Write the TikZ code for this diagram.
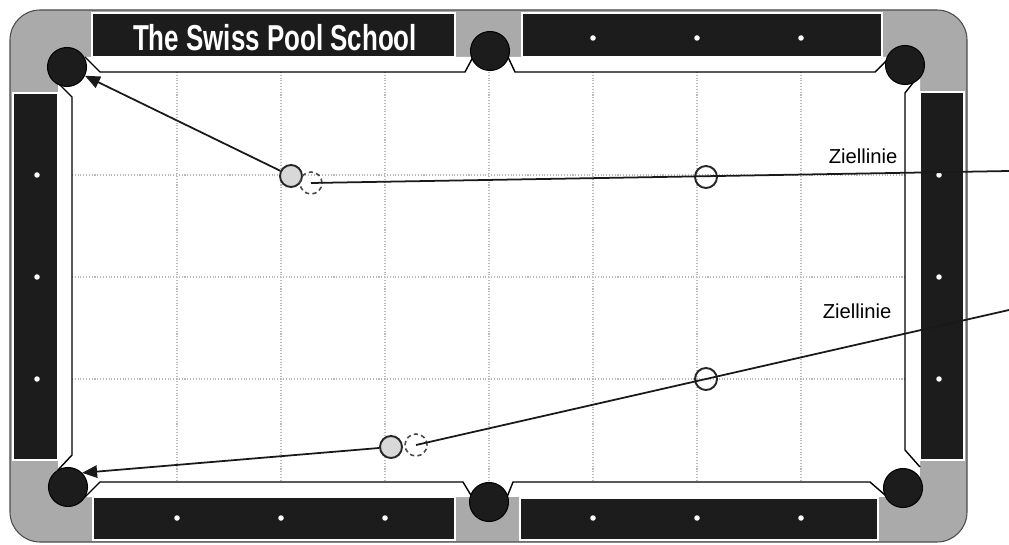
\documentclass[tikz,border=0pt]{standalone}
\usepackage{fontspec}
\setmainfont{Liberation Sans}
\newfontfamily\titlefont[FakeStretch=0.72]{Liberation Sans}
\usepackage{tikz}
\usetikzlibrary{arrows.meta}
\definecolor{railcolor}{RGB}{28,28,28}
\definecolor{cornercolor}{RGB}{170,170,170}
\definecolor{gridcolor}{RGB}{185,185,185}
\definecolor{ballcolor}{RGB}{216,216,216}

\begin{document}
\begin{tikzpicture}[x=2mm,y=2mm,
  pocket/.style={circle,fill=railcolor,draw=black,line width=0.6pt,inner sep=0pt,minimum size=7.8mm},
  ball/.style={circle,draw=black!85,line width=1.1pt,inner sep=0pt,minimum size=4.4mm},
  ghost/.style={ball,draw=black!70,line width=0.9pt,dash pattern=on 2.5pt off 1.8pt},
  rail/.style={fill=railcolor,draw=white,line width=1.4pt},
  cushion/.style={fill=white,draw=black,line width=0.8pt},
  spot/.style={circle,fill=white,inner sep=0pt,minimum size=1.1mm},
  gridline/.style={gridcolor,densely dotted,line width=0.6pt},
  aim/.style={line width=1pt,black!90}]
\useasboundingbox (0,0) rectangle (100.9,54.4);
% table and playing field
\draw[rounded corners=6mm, fill=cornercolor, draw=black!70, line width=0.6pt] (1.0,0.2) rectangle (96.7,53.4);
\fill[white] (5.8,48.7) rectangle (92.0,4.7);
\foreach \gx in {17.7,28.1,38.5,48.9,59.3,69.7,80.1}
  \draw[gridline] (\gx,47.2) -- (\gx,6.2);
\foreach \gy in {36.9,26.7,16.5}
  \draw[gridline] (7.2,\gy) -- (90.5,\gy);
% rails
\draw[rail] (9.2,53.1) rectangle (45.5,48.7);
\draw[rail] (52.2,53.1) rectangle (88.2,48.7);
\draw[rail] (9.3,4.7) rectangle (45.5,0.4);
\draw[rail] (52.0,4.6) rectangle (87.8,0.4);
\draw[rail] (1.3,45.1) rectangle (5.8,8.4);
\draw[rail] (92.0,45.2) rectangle (96.4,8.4);
% cushions
\draw[cushion] (8.5,48.7) -- (10.0,47.2) -- (46.5,47.2) -- (47.3,48.7);
\draw[cushion] (50.8,48.7) -- (51.5,47.2) -- (87.5,47.2) -- (89.0,48.7);
\draw[cushion] (8.5,4.7) -- (10.0,6.2) -- (46.3,6.2) -- (47.2,4.7);
\draw[cushion] (50.7,4.7) -- (51.3,6.2) -- (87.0,6.2) -- (88.5,4.9);
\draw[cushion] (5.8,46.1) -- (7.2,44.7) -- (7.2,8.9) -- (5.8,7.4);
\draw[cushion] (92.0,47.0) -- (90.5,45.1) -- (90.5,9.4) -- (92.0,7.7);
% pockets
\node[pocket] (pTL) at (6.7,47.7) {};
\node[pocket] (pTM) at (49.0,49.3) {};
\node[pocket] (pTR) at (90.5,47.9) {};
\node[pocket] (pBL) at (6.8,5.7) {};
\node[pocket] (pBM) at (48.9,4.2) {};
\node[pocket] (pBR) at (90.3,5.6) {};
% diamonds
\foreach \sx [count=\i] in {59.3,69.7,80.1}
  \node[spot] (topspot\i) at (\sx,50.6) {};
\foreach \sx [count=\i] in {17.7,28.1,38.5,59.3,69.7,80.1}
  \node[spot] (botspot\i) at (\sx,2.6) {};
\foreach \sy [count=\i] in {36.9,26.7,16.5} {
  \node[spot] (leftspot\i) at (3.7,\sy) {};
  \node[spot] (rightspot\i) at (93.9,\sy) {};
}
\node[text=white, font=\titlefont\bfseries\fontsize{20.5}{24}\selectfont] (title) at (27.5,50.6) {The Swiss Pool School};
% shot 1
\coordinate (aim1) at (100.9,37.3);
\node[ball, fill=ballcolor] (ob1) at (29.1,36.8) {};
\node[ghost] (gb1) at (31.1,36.1) {};
\node[ball] (cb1) at (70.6,36.7) {};
\draw[aim] (gb1.center) -- (aim1);
\draw[aim, -{Triangle[length=8.5pt,width=7pt]}] (ob1) -- (pTL);
\node[font=\fontsize{11.5}{13}\selectfont] (label1) at (86.3,38.8) {Ziellinie};
% shot 2
\coordinate (aim2) at (100.9,23.4);
\node[ball, fill=ballcolor] (ob2) at (39.1,9.7) {};
\node[ghost] (gb2) at (41.6,9.9) {};
\node[ball] (cb2) at (70.6,16.5) {};
\draw[aim] (gb2.center) -- (aim2);
\draw[aim, -{Triangle[length=8.5pt,width=7pt]}] (ob2) -- (pBL.north east);
\node[font=\fontsize{11.5}{13}\selectfont] (label2) at (85.7,23.3) {Ziellinie};
\end{tikzpicture}
\end{document}
